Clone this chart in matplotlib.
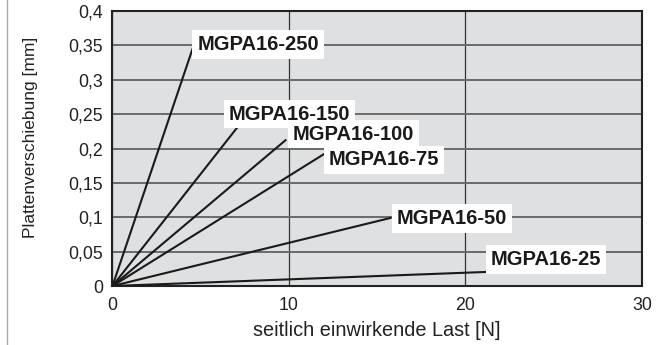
import matplotlib
matplotlib.use('Agg')
import matplotlib.pyplot as plt
from matplotlib.lines import Line2D

plt.rcParams['font.family'] = ['Liberation Sans', 'DejaVu Sans']

# Messwerte: Endpunkte der Kennlinien (Last [N], Verschiebung [mm])
models = ['MGPA16-250', 'MGPA16-150', 'MGPA16-100', 'MGPA16-75', 'MGPA16-50', 'MGPA16-25']
end_force = [4.6, 7.05, 9.8, 12.05, 15.75, 23.8]
end_disp = [0.35, 0.23, 0.212, 0.193, 0.099, 0.023]

x_ticks = [0, 10, 20, 30]
x_labels = ['0', '10', '20', '30']
y_ticks = [0, 0.05, 0.1, 0.15, 0.2, 0.25, 0.3, 0.35, 0.4]
y_labels = ['0', '0,05', '0,1', '0,15', '0,2', '0,25', '0,3', '0,35', '0,4']

# Beschriftungspositionen (linke Kante, Mitte)
label_pos = [(4.8, 0.351), (6.6, 0.250), (10.23, 0.221), (12.27, 0.1835), (16.12, 0.0985), (21.45, 0.039)]

fig = plt.figure(figsize=(6.59, 3.45), dpi=100)
ax = fig.add_axes([0.1707, 0.171, 0.8035, 0.797])
ax.set_facecolor('#dfe0e2')

ax.set_xlim(0, 30)
ax.set_ylim(0, 0.4)
ax.set_xticks(x_ticks)
ax.set_xticklabels(x_labels)
ax.set_yticks(y_ticks)
ax.set_yticklabels(y_labels)
ax.tick_params(length=0, labelsize=12.8, colors='#222222', pad=7)
ax.tick_params(axis='x', pad=8)

ax.yaxis.grid(True, color='#6a6a6a', lw=1.4, zorder=1)
ax.xaxis.grid(True, color='#333333', lw=0.9, zorder=1)
ax.set_axisbelow(True)
for s in ax.spines.values():
    s.set_color('#222222')
    s.set_linewidth(1.5)

for f, d in zip(end_force, end_disp):
    ax.plot([0, f], [0, d], color='#1a1a1a', lw=1.5, zorder=3)

for name, (lx, ly) in zip(models, label_pos):
    ax.text(lx, ly, name, fontsize=14.5, fontweight='bold', color='#1a1a1a',
            ha='left', va='center', zorder=4,
            bbox=dict(facecolor='white', edgecolor='none', pad=3.5))

ax.set_xlabel('seitlich einwirkende Last [N]', fontsize=14.3, color='#222222', labelpad=5)
ax.set_ylabel('Plattenverschiebung [mm]', fontsize=12.5, color='#222222')
ax.yaxis.set_label_coords(-0.14, 0.54)

fig.add_artist(Line2D([7 / 659, 7 / 659], [0, 1], color='#aaaaaa', lw=1))

fig.savefig('out.png', dpi=100)
